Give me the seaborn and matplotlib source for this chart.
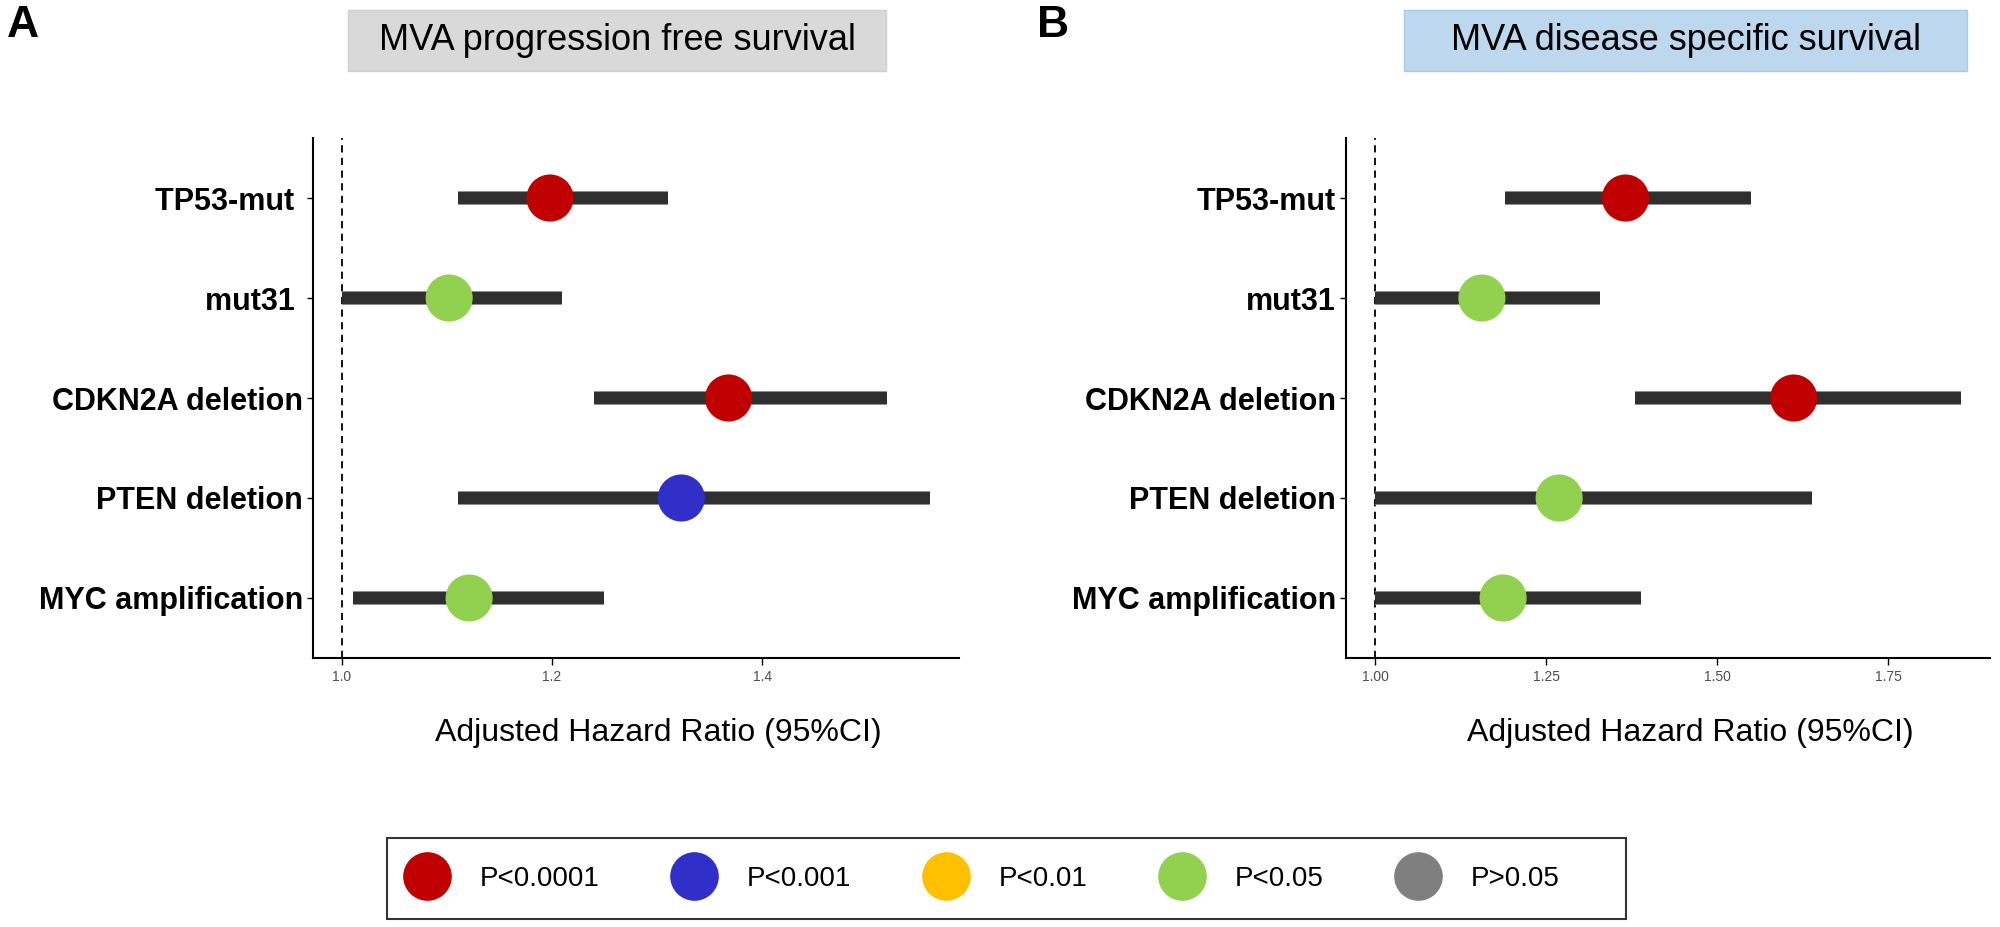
import pandas as pd
import seaborn as sns
from matplotlib import pyplot as plt
from matplotlib.lines import Line2D
from matplotlib.patches import Rectangle
import matplotlib.patheffects as pe

# %%
# categorias (de cima para baixo)
labels_a = ['TP53-mut ', 'mut31 ', 'CDKN2A deletion', 'PTEN deletion', 'MYC amplification']
labels_b = ['TP53-mut', 'mut31', 'CDKN2A deletion', 'PTEN deletion', 'MYC amplification']

# MVA progression free survival
hr_a = [1.198, 1.102, 1.368, 1.323, 1.121]
lo_a = [1.110, 1.000, 1.240, 1.110, 1.010]
hi_a = [1.310, 1.209, 1.519, 1.560, 1.249]
p_a = ['P<0.0001', 'P<0.05', 'P<0.0001', 'P<0.001', 'P<0.05']

# MVA disease specific survival
hr_b = [1.366, 1.156, 1.612, 1.269, 1.187]
lo_b = [1.190, 1.000, 1.380, 1.000, 1.000]
hi_b = [1.549, 1.329, 1.857, 1.638, 1.389]
p_b = ['P<0.0001', 'P<0.05', 'P<0.0001', 'P<0.05', 'P<0.05']

p_levels = ['P<0.0001', 'P<0.001', 'P<0.01', 'P<0.05', 'P>0.05']
p_colors = ['#C00000', '#3030C8', '#FFC000', '#92D050', '#7F7F7F']
paleta = dict(zip(p_levels, p_colors))

ticks_a = [1.0, 1.2, 1.4]
ticks_b = [1.00, 1.25, 1.50, 1.75]

# %%
sns.set_style('white')
plt.rcParams['font.family'] = ['Liberation Sans', 'DejaVu Sans']
plt.rcParams['text.color'] = 'black'
plt.rcParams['axes.labelcolor'] = 'black'
plt.rcParams['ytick.color'] = 'black'
plt.rcParams['xtick.color'] = 'black'

fig = plt.figure(figsize=(20, 9.27), dpi=100)
ax1 = fig.add_axes([0.1563, 0.2902, 0.3230, 0.5609])
ax2 = fig.add_axes([0.6729, 0.2902, 0.3221, 0.5609])


def forest(ax, labels, hr, lo, hi, pcat, xlim, ticks, ticklabels):
    df = pd.DataFrame({'var': labels, 'hr': hr, 'lo': lo, 'hi': hi, 'p': pcat})
    sns.scatterplot(data=df, x='hr', y='var', hue='p', palette=paleta, s=1150,
                    linewidth=0, ax=ax, zorder=4, legend=False)
    ax.hlines(df['var'], df['lo'], df['hi'], color='#2F2F2F', lw=8.6, zorder=3,
              path_effects=[pe.Stroke(linewidth=10, foreground='#8A8A8A'), pe.Normal()])
    ax.axvline(1.0, color='black', lw=1.3, ls=(0, (4, 3)), zorder=2)
    ax.set_xlim(*xlim)
    ax.set_ylim(len(labels) - 0.4, -0.6)
    ax.set_xticks(ticks)
    ax.set_xticklabels(ticklabels)
    ax.set_ylabel('')
    ax.set_xlabel('Adjusted Hazard Ratio (95%CI)', fontsize=23, labelpad=24, color='black')
    ax.xaxis.label.set_x(0.535)
    ax.tick_params(axis='x', labelsize=10, labelcolor='#4D4D4D', length=5, width=1, pad=4,
                   color='black', bottom=True)
    ax.tick_params(axis='y', labelsize=22, labelcolor='black', length=4, width=1, pad=3,
                   color='black', left=True)
    for t in ax.get_yticklabels():
        t.set_fontweight('bold')
    sns.despine(ax=ax)
    for s in ['left', 'bottom']:
        ax.spines[s].set_color('black')
        ax.spines[s].set_linewidth(1.5)


forest(ax1, labels_a, hr_a, lo_a, hi_a, p_a, (0.972, 1.587), ticks_a, ['1.0', '1.2', '1.4'])
forest(ax2, labels_b, hr_b, lo_b, hi_b, p_b, (0.957, 1.899), ticks_b,
       ['1.00', '1.25', '1.50', '1.75'])

# caixas de titulo
fig.patches.append(Rectangle((0.174, 0.9234), 0.269, 0.0658, transform=fig.transFigure,
                             facecolor='#D9D9D9', edgecolor='#CFCFCF', lw=1, zorder=0))
fig.patches.append(Rectangle((0.702, 0.9234), 0.2815, 0.0658, transform=fig.transFigure,
                             facecolor='#BDD7EE', edgecolor='#A9CBEA', lw=1, zorder=0))
fig.text(0.3085, 0.9563, 'MVA progression free survival', fontsize=26, ha='center',
         va='center', color='black')
fig.text(0.8428, 0.9563, 'MVA disease specific survival', fontsize=26, ha='center',
         va='center', color='black')

fig.text(0.0035, 0.995, 'A', fontsize=32, fontweight='bold', ha='left', va='top', color='black')
fig.text(0.5185, 0.995, 'B', fontsize=32, fontweight='bold', ha='left', va='top', color='black')

# legenda
fig.patches.append(Rectangle((0.1935, 0.0086), 0.6195, 0.0874, transform=fig.transFigure,
                             facecolor='white', edgecolor='#333333', lw=1.5, zorder=0))
handles = [Line2D([], [], marker='o', ls='', markersize=34, markerfacecolor=c,
                  markeredgecolor=c) for c in p_colors]
leg = fig.legend(handles, p_levels, loc='center left', bbox_to_anchor=(0.2051, 0.0523),
                 ncol=5, frameon=False, fontsize=20, handlelength=1.2, handletextpad=1.3,
                 columnspacing=2.8, borderpad=0, borderaxespad=0)
for t in leg.get_texts():
    t.set_color('black')

plt.savefig('out.png', dpi=100)
